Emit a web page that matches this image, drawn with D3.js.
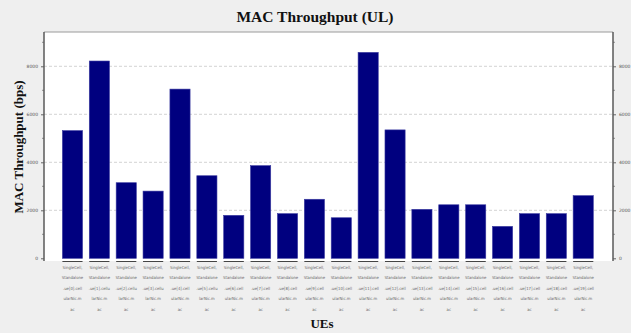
<!DOCTYPE html>
<html>
<head>
<meta charset="utf-8">
<script src="https://cdn.jsdelivr.net/npm/d3@7/dist/d3.min.js"></script>
<style>
  html, body { margin: 0; padding: 0; background: #efefef; }
  svg { display: block; }
</style>
</head>
<body>
<svg id="chart" width="631" height="333"></svg>
<script>
// MAC throughput (uplink) per UE
const ueIndex = [0, 1, 2, 3, 4, 5, 6, 7, 8, 9, 10, 11, 12, 13, 14, 15, 16, 17, 18, 19];
const throughput = [5320, 8220, 3150, 2800, 7050, 3440, 1790, 3860, 1860, 2460,
                    1690, 8580, 5350, 2040, 2230, 2230, 1330, 1860, 1860, 2610];
// label wrapping style: "a" ends "...cell / ularNic.m / ac", "b" ends "...cellu / larNic.m / ac"
const wrapStyle = ["a", "b", "b", "b", "a", "b", "a", "a", "a", "a",
                   "a", "a", "a", "a", "a", "a", "a", "a", "a", "a"];
const yTicks = [0, 2000, 4000, 6000, 8000];
const yMinorTicks = [1000, 3000, 5000, 7000, 9000];

const categories = ueIndex.map(i => "SingleCell, Standalone.ue[" + i + "].cellularNic.mac");
const labelLines = ueIndex.map((i, k) => wrapStyle[k] === "a"
  ? ["SingleCell,", "Standalone", ".ue[" + i + "].cell", "ularNic.m", "ac"]
  : ["SingleCell,", "Standalone", ".ue[" + i + "].cellu", "larNic.m", "ac"]);

const svg = d3.select("#chart");
const plot = { left: 44, right: 613, top: 32, bottom: 261 };

const x = d3.scaleBand().domain(categories).range([62.4, 593.3]).paddingInner(0.25).paddingOuter(0);
const y = d3.scaleLinear().domain([0, 2000]).range([258.3, 210.3]);

// plot area
svg.append("rect")
  .attr("x", plot.left).attr("y", plot.top)
  .attr("width", plot.right - plot.left).attr("height", plot.bottom - plot.top)
  .attr("fill", "#ffffff");
svg.append("line")
  .attr("x1", plot.left).attr("x2", plot.right)
  .attr("y1", plot.top).attr("y2", plot.top)
  .attr("stroke", "#9a9a9a").attr("stroke-width", 1);

// dashed grid
svg.append("g").selectAll("line").data(yTicks.filter(d => d > 0)).join("line")
  .attr("x1", plot.left).attr("x2", plot.right)
  .attr("y1", d => y(d)).attr("y2", d => y(d))
  .attr("stroke", "#c8c8c8").attr("stroke-width", 0.8)
  .attr("stroke-dasharray", "3,2");

// bars
svg.append("g").selectAll("rect").data(throughput).join("rect")
  .attr("x", (d, i) => x(categories[i]))
  .attr("y", d => y(d))
  .attr("width", x.bandwidth())
  .attr("height", d => y(0) - y(d))
  .attr("fill", "#00007f")
  .attr("stroke", "#3a3aa0").attr("stroke-width", 0.6);

// category underline marks
svg.append("g").selectAll("line").data(categories).join("line")
  .attr("x1", d => x(d)).attr("x2", d => x(d) + x.bandwidth())
  .attr("y1", 261.5).attr("y2", 261.5)
  .attr("stroke", "#444").attr("stroke-width", 1);

// category labels
const lab = svg.append("g").selectAll("text").data(categories).join("text")
  .attr("x", d => x(d) + x.bandwidth() / 2)
  .attr("y", 269)
  .attr("text-anchor", "middle")
  .attr("font-family", "DejaVu Sans Condensed, DejaVu Sans, sans-serif")
  .attr("font-stretch", "condensed")
  .attr("font-size", 4.2)
  .attr("fill", "#666");
lab.selectAll("tspan").data((d, i) => labelLines[i]).join("tspan")
  .attr("x", function () { return d3.select(this.parentNode).attr("x"); })
  .attr("dy", (d, j) => j === 0 ? 0 : 10.4)
  .text(d => d);

// left and right axes
const yAxisLeft = d3.axisLeft(y).tickValues(yTicks).tickSize(3).tickPadding(3).tickFormat(d3.format("d"));
const yAxisRight = d3.axisRight(y).tickValues(yTicks).tickSize(3).tickPadding(3).tickFormat(d3.format("d"));

function styleAxis(g) {
  g.select(".domain").remove();
  g.selectAll(".tick line").attr("stroke", "#666");
  g.selectAll(".tick text").attr("font-size", 4.5).attr("fill", "#555")
    .attr("font-family", "DejaVu Sans, sans-serif");
}
svg.append("g").attr("transform", `translate(${plot.left},0)`).call(yAxisLeft).call(styleAxis);
svg.append("g").attr("transform", `translate(${plot.right},0)`).call(yAxisRight).call(styleAxis);

// minor ticks
[[plot.left, -2], [plot.right, 2]].forEach(([px, dx]) => {
  svg.append("g").selectAll("line").data(yMinorTicks).join("line")
    .attr("x1", px).attr("x2", px + dx)
    .attr("y1", d => y(d)).attr("y2", d => y(d))
    .attr("stroke", "#777").attr("stroke-width", 0.8);
});

// axis spines
[plot.left, plot.right].forEach(px => {
  svg.append("line")
    .attr("x1", px).attr("x2", px)
    .attr("y1", plot.top).attr("y2", plot.bottom)
    .attr("stroke", "#5a5a5a").attr("stroke-width", 1.5);
});

// titles
svg.append("text")
  .attr("x", 315).attr("y", 22)
  .attr("text-anchor", "middle")
  .attr("font-family", "Liberation Serif, serif")
  .attr("font-weight", "bold").attr("font-size", 15.5)
  .attr("fill", "#111")
  .text("MAC Throughput (UL)");

svg.append("text")
  .attr("transform", "translate(23,147) rotate(-90)")
  .attr("text-anchor", "middle")
  .attr("font-family", "Liberation Serif, serif")
  .attr("font-weight", "bold").attr("font-size", 13)
  .attr("fill", "#111")
  .text("MAC Throughput (bps)");

svg.append("text")
  .attr("x", 322).attr("y", 328)
  .attr("text-anchor", "middle")
  .attr("font-family", "Liberation Serif, serif")
  .attr("font-weight", "bold").attr("font-size", 13)
  .attr("fill", "#111")
  .text("UEs");
</script>
</body>
</html>
